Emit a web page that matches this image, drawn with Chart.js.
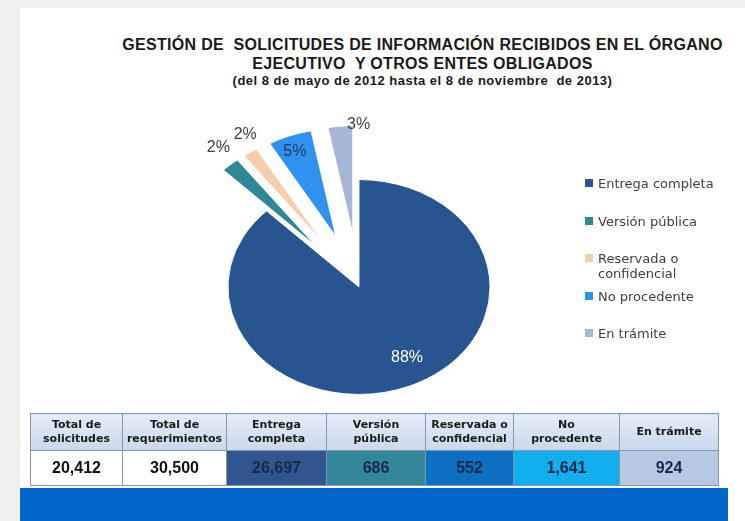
<!DOCTYPE html>
<html><head><meta charset="utf-8">
<script src="https://cdn.jsdelivr.net/npm/chart.js@4.4.1/dist/chart.umd.min.js"></script>
<style>
html,body{margin:0;padding:0;}
body{width:745px;height:521px;background:#efefef;position:relative;overflow:hidden;font-family:"DejaVu Sans",sans-serif;}
#panel{position:absolute;left:20px;top:8px;right:0;bottom:0;background:#fff;}
#c{position:absolute;left:0;top:0;}
#title{position:absolute;left:100px;width:645px;top:35px;text-align:center;font-family:"Liberation Sans",Arial,sans-serif;font-weight:bold;color:#1a1a1a;white-space:pre;}
.t1{font-size:16px;line-height:19px;letter-spacing:0.3px;}
.t3{font-size:13px;line-height:16px;letter-spacing:0.5px;}
#legend{position:absolute;left:585px;top:176px;width:150px;}
.li{height:37.5px;position:relative;padding-left:13px;font-size:13px;line-height:15px;color:#404040;width:125px;}
.li i{position:absolute;left:0;top:3px;width:8px;height:8px;}
#tbl{position:absolute;left:30px;top:413px;border-collapse:collapse;table-layout:fixed;}
#tbl td{border:1px solid #8497B0;text-align:center;padding:0;overflow:hidden;}
#tbl tr.h td{height:36px;background:linear-gradient(#E4EDF8,#C9D8EC);font-size:11px;font-weight:bold;line-height:14px;color:#1a1a1a;white-space:pre;}
#tbl tr.d td{height:34px;font-family:"Liberation Sans",Arial,sans-serif;font-size:16px;font-weight:bold;color:#16294a;}
#band{position:absolute;left:20px;top:488px;width:708px;height:33px;background:#0066CC;}
</style>
</head>
<body>
<div id="panel"></div>
<div id="title"><div class="t1">GESTIÓN DE  SOLICITUDES DE INFORMACIÓN RECIBIDOS EN EL ÓRGANO</div><div class="t1">EJECUTIVO  Y OTROS ENTES OBLIGADOS</div><div class="t3">(del 8 de mayo de 2012 hasta el 8 de noviembre  de 2013)</div></div>
<canvas id="c" width="745" height="521"></canvas>
<div id="legend"></div>
<table id="tbl"></table>
<div id="band"></div>
<script>
// ---- data ----
const categories = ['Entrega completa', 'Versión pública', 'Reservada o confidencial', 'No procedente', 'En trámite'];
const solicitudesPorEstado = [26697, 686, 552, 1641, 924];
const totalSolicitudes = 20412;
const totalRequerimientos = 30500;
const tableHeaders = ['Total de\nsolicitudes', 'Total de\nrequerimientos', 'Entrega\ncompleta', 'Versión\npública', 'Reservada o\nconfidencial', 'No\nprocedente', 'En trámite'];

// ---- styles ----
const sliceColors = ['#28548F', '#2F8797', '#F9CCAA', '#2F92EE', '#A6B6D6'];
const cellColors = ['#ffffff', '#ffffff', '#31568F', '#34879A', '#0C6FC1', '#12AEEE', '#B7C9E2'];
const colWidths = [92, 104, 100, 99, 88, 106, 99];
const SQUASH = 0.82;
const explode = [0, 66, 66, 66, 66];
const labelNudge = [[8, -9], [0, -4], [5, -3], [-4, -4], [20, 16]];
const labelColors = ['#ffffff', '#404040', '#404040', '#1F3864', '#404040'];

const fmt = n => n.toLocaleString('en-US');

const piePlugin = {
  id: 'piePlugin',
  beforeDatasetDraw(chart, args) {
    const ctx = chart.ctx;
    const arcs = args.meta.data;
    const cx = arcs[0].x, cy = arcs[0].y;
    ctx.save();
    ctx.translate(cx, cy); ctx.scale(1, SQUASH); ctx.translate(-cx, -cy);
    arcs.forEach((arc, i) => {
      const mid = (arc.startAngle + arc.endAngle) / 2;
      ctx.save();
      ctx.translate(Math.cos(mid) * explode[i], Math.sin(mid) * explode[i]);
      arc.draw(ctx, chart.chartArea);
      ctx.restore();
    });
    ctx.restore();
    return false;
  },
  afterDatasetsDraw(chart) {
    const ctx = chart.ctx;
    const meta = chart.getDatasetMeta(0);
    const vals = chart.data.datasets[0].data;
    const total = vals.reduce((a, b) => a + b, 0);
    ctx.save();
    ctx.font = '16px "Liberation Sans", Arial, sans-serif';
    ctx.textAlign = 'center';
    ctx.textBaseline = 'middle';
    meta.data.forEach((arc, i) => {
      const mid = (arc.startAngle + arc.endAngle) / 2;
      const pct = vals[i] / total;
      const inside = pct >= 0.05;
      const r = explode[i] + (inside ? 0.8 : 1.0) * arc.outerRadius;
      let X = arc.x + Math.cos(mid) * r;
      let Y = arc.y + Math.sin(mid) * r * SQUASH;
      if (!inside) { X += Math.cos(mid) * 18; Y += Math.sin(mid) * 18; }
      X += labelNudge[i][0]; Y += labelNudge[i][1];
      ctx.fillStyle = labelColors[i];
      ctx.fillText(Math.round(pct * 100) + '%', X, Y);
    });
    ctx.restore();
  }
};

new Chart(document.getElementById('c'), {
  type: 'pie',
  data: {
    labels: categories,
    datasets: [{ data: solicitudesPorEstado, backgroundColor: sliceColors, borderColor: '#ffffff', borderWidth: 1 }]
  },
  options: {
    responsive: false,
    animation: false,
    events: [],
    radius: 131,
    layout: { padding: { left: 209, right: 236, top: 137, bottom: 84 } },
    plugins: { legend: { display: false }, tooltip: { enabled: false }, title: { display: false } }
  },
  plugins: [piePlugin]
});

// legend
const lg = document.getElementById('legend');
categories.forEach((c, i) => {
  const d = document.createElement('div');
  d.className = 'li';
  const m = document.createElement('i');
  m.style.background = sliceColors[i];
  d.appendChild(m);
  d.appendChild(document.createTextNode(c));
  lg.appendChild(d);
});

// table
const tbl = document.getElementById('tbl');
const cg = document.createElement('colgroup');
colWidths.forEach(w => { const col = document.createElement('col'); col.style.width = w + 'px'; cg.appendChild(col); });
tbl.appendChild(cg);
const hr = document.createElement('tr'); hr.className = 'h';
tableHeaders.forEach(h => { const td = document.createElement('td'); td.textContent = h; hr.appendChild(td); });
tbl.appendChild(hr);
const dr = document.createElement('tr'); dr.className = 'd';
[totalSolicitudes, totalRequerimientos, ...solicitudesPorEstado].forEach((v, i) => {
  const td = document.createElement('td');
  td.textContent = fmt(v);
  td.style.background = cellColors[i];
  if (i < 2) td.style.color = '#111';
  dr.appendChild(td);
});
tbl.appendChild(dr);
</script>
</body></html>
